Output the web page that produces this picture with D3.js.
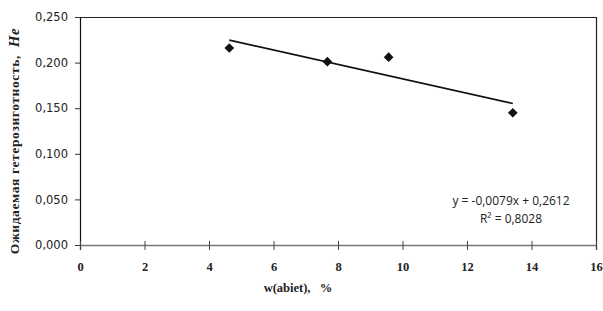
<!DOCTYPE html>
<html>
<head>
<meta charset="utf-8">
<script src="https://cdn.jsdelivr.net/npm/d3@7"></script>
<style>
  body { margin: 0; background: #fff; }
  svg { display: block; }
  text { white-space: pre; }
</style>
</head>
<body>
<div id="chart"></div>
<script>
// Values
const wAbiet = [4.63, 7.67, 9.57, 13.42];
const heValues = [0.216, 0.201, 0.206, 0.145];
const xTicks = [0, 2, 4, 6, 8, 10, 12, 14, 16];
const yTicks = [0, 0.05, 0.1, 0.15, 0.2, 0.25];
// Trend line coefficients as printed on the chart
const trendSlope = -0.0079;
const trendIntercept = 0.2612;
const eqLines = ["y = -0,0079x + 0,2612", "R² = 0,8028"];

const W = 603, H = 311;
const margin = {top: 17, right: 7, bottom: 66, left: 80};
const width = W - margin.left - margin.right,
      height = H - margin.top - margin.bottom;

const svg = d3.select("#chart").append("svg")
    .attr("width", W).attr("height", H);
const g = svg.append("g")
    .attr("transform", `translate(${margin.left},${margin.top})`);

const x = d3.scaleLinear().domain([0, 16]).range([0, width]);
const y = d3.scaleLinear().domain([0, 0.25]).range([height, 0]);

const fmtY = v => d3.format(".3f")(v).replace(".", ",");

// Plot frame (top and right)
g.append("path")
   .attr("d", `M0,0.5H${width + 0.5}V${height}`)
   .attr("fill", "none")
   .attr("stroke", "#222")
   .attr("stroke-width", 1.2);

// Y axis
const yAxis = g.append("g")
   .call(d3.axisLeft(y).tickValues(yTicks).tickFormat(fmtY).tickSize(5).tickPadding(7));
yAxis.select(".domain").attr("stroke", "#111").attr("stroke-width", 1.2);
yAxis.selectAll(".tick line").attr("stroke", "#333");
yAxis.selectAll("text")
   .attr("font-family", "DejaVu Sans, Verdana, sans-serif")
   .attr("font-size", 11.5)
   .attr("fill", "#222");

// X axis
const xAxis = g.append("g")
   .attr("transform", `translate(0,${height})`)
   .call(d3.axisBottom(x).tickValues(xTicks).tickSize(5).tickPadding(12));
xAxis.select(".domain").attr("stroke", "#777").attr("stroke-width", 1.5);
xAxis.selectAll(".tick line").attr("stroke", "#444").attr("y1", -4);
xAxis.selectAll("text")
   .attr("font-family", "Liberation Serif, Times New Roman, serif")
   .attr("font-weight", "bold")
   .attr("font-size", 12.5)
   .attr("fill", "#222");

// Trend line over the data range
const xr = d3.extent(wAbiet);
g.append("line")
   .attr("x1", x(xr[0])).attr("y1", y(trendSlope * xr[0] + trendIntercept))
   .attr("x2", x(xr[1])).attr("y2", y(trendSlope * xr[1] + trendIntercept))
   .attr("stroke", "#111")
   .attr("stroke-width", 1.6);

// Markers
g.selectAll(".pt")
   .data(wAbiet.map((d, i) => [d, heValues[i]]))
   .enter()
   .append("path")
   .attr("class", "pt")
   .attr("transform", d => `translate(${x(d[0])},${y(d[1])})`)
   .attr("d", d3.symbol().type(d3.symbolDiamond2).size(60))
   .attr("fill", "#111");

// Equation
const eq = g.append("text")
   .attr("font-family", "Open Sans, Liberation Sans, sans-serif")
   .attr("font-size", 12)
   .attr("fill", "#222")
   .attr("text-anchor", "middle");
eq.selectAll("tspan")
   .data(eqLines)
   .enter()
   .append("tspan")
   .attr("x", 431)
   .attr("y", (d, i) => 188 + i * 18)
   .text(d => d);

// Axis titles
svg.append("text")
   .attr("x", 298).attr("y", 292)
   .attr("text-anchor", "middle")
   .attr("font-family", "Liberation Serif, Times New Roman, serif")
   .attr("font-weight", "bold")
   .attr("font-size", 12.5)
   .attr("fill", "#222")
   .text("w(abiet),   %");

const yt = svg.append("text")
   .attr("transform", "translate(19,141) rotate(-90)")
   .attr("text-anchor", "middle")
   .attr("font-family", "Liberation Serif, Times New Roman, serif")
   .attr("font-weight", "bold")
   .attr("font-size", 13.5)
   .attr("letter-spacing", 0.6)
   .attr("fill", "#222");
yt.append("tspan").text("Ожидаемая гетерозиготность,  ");
yt.append("tspan").attr("font-style", "italic").attr("font-size", 15).text("He");
</script>
</body>
</html>
